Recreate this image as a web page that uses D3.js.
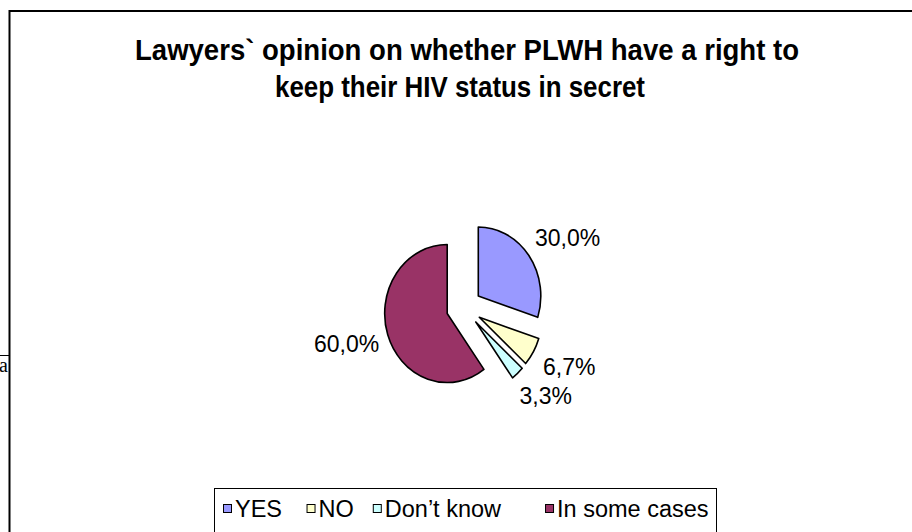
<!DOCTYPE html>
<html>
<head>
<meta charset="utf-8">
<script src="https://cdn.jsdelivr.net/npm/d3@7"></script>
<style>
  html, body { margin: 0; padding: 0; background: #fff; }
  svg { display: block; }
  text { font-family: "Liberation Sans", Arial, sans-serif; }
</style>
</head>
<body>
<script>
// Survey answers: share of lawyers per response (percent)
const categories = ["YES", "NO", "Don\u2019t know", "In some cases"];
const values = [30.0, 6.7, 3.3, 60.0];
const colors = ["#9999FF", "#FFFFCC", "#CCFFFF", "#993366"];
const titleLines = [
  "Lawyers` opinion on whether PLWH have a right to",
  "keep their HIV status in secret"
];

const W = 912, H = 532;
const svg = d3.select("body").append("svg")
  .attr("width", W).attr("height", H);

svg.append("rect").attr("width", W).attr("height", H).attr("fill", "#fff");

// Fragment of the surrounding page on the left
svg.append("line")
  .attr("x1", 0).attr("x2", 9).attr("y1", 355.5).attr("y2", 355.5)
  .attr("stroke", "#000").attr("stroke-width", 1);
svg.append("text")
  .attr("x", 8).attr("y", 372).attr("text-anchor", "end")
  .style("font-family", "'Liberation Serif', 'Times New Roman', serif")
  .style("font-size", "20px").text("a");

// Chart frame (continues past the right and bottom edges)
svg.append("rect")
  .attr("x", 9.5).attr("y", 11).attr("width", W + 20).attr("height", H + 20)
  .attr("fill", "#fff").attr("stroke", "#000").attr("stroke-width", 2);

// Title, each line fitted to its set width
const titleBoxes = [[135, 664], [275, 370]];
svg.append("g").selectAll("text").data(titleLines).join("text")
  .attr("x", (d, i) => titleBoxes[i][0])
  .attr("y", (d, i) => 60 + i * 37)
  .attr("textLength", (d, i) => titleBoxes[i][1])
  .attr("lengthAdjust", "spacingAndGlyphs")
  .style("font-weight", "bold").style("font-size", "29px")
  .attr("fill", "#000")
  .text(d => d);

// Exploded pie (slightly narrower horizontally)
const cx = 464, cy = 307.5, r = 69, explode = 19.5, sx = 0.906;
const pie = d3.pie().sort(null).value(d => d)(values);
const arc = d3.arc().innerRadius(0).outerRadius(r);
const mid = d => (d.startAngle + d.endAngle) / 2;

const pieG = svg.append("g")
  .attr("transform", `translate(${cx},${cy}) scale(${sx},1)`);

pieG.selectAll("path").data(pie).join("path")
  .attr("transform", d => `translate(${Math.sin(mid(d)) * explode},${-Math.cos(mid(d)) * explode})`)
  .attr("d", arc)
  .attr("fill", (d, i) => colors[i])
  .attr("stroke", "#000")
  .attr("stroke-width", 1.6)
  .attr("stroke-linejoin", "round")
  .attr("vector-effect", "non-scaling-stroke");

// Percentage labels placed just outside each slice
const fmt = v => d3.format(".1f")(v).replace(".", ",") + "%";
const labelFs = 23, labelRx = 93, labelRy = 110;
const capH = labelFs * 0.716;
svg.append("g").selectAll("text").data(pie).join("text")
  .style("font-size", labelFs + "px")
  .attr("fill", "#000")
  .attr("text-anchor", "middle")
  .text(d => fmt(d.data))
  .each(function (d) {
    const a = mid(d);
    const w = this.getComputedTextLength();
    const tx = cx + Math.sin(a) * (labelRx + w / 2) + 2;
    const ty = cy - Math.cos(a) * (labelRy + capH / 2);
    d3.select(this).attr("x", tx).attr("y", ty + capH / 2);
  });

// Legend
const legendFs = 23.5;
const legendGaps = [24.5, 19, 44];
svg.append("rect")
  .attr("x", 214.5).attr("y", 488.5).attr("width", 502).attr("height", 100)
  .attr("fill", "#fff").attr("stroke", "#000").attr("stroke-width", 1);

const legendG = svg.append("g");
let lx = 223;
categories.forEach((c, i) => {
  legendG.append("rect")
    .attr("x", lx + 0.5).attr("y", 504.5).attr("width", 8).attr("height", 8)
    .attr("fill", colors[i]).attr("stroke", "#000").attr("stroke-width", 1);
  const t = legendG.append("text")
    .attr("x", lx + 12).attr("y", 517)
    .style("font-size", legendFs + "px").attr("fill", "#000")
    .text(c);
  lx += 12 + t.node().getComputedTextLength() + (legendGaps[i] || 0);
});
</script>
</body>
</html>
